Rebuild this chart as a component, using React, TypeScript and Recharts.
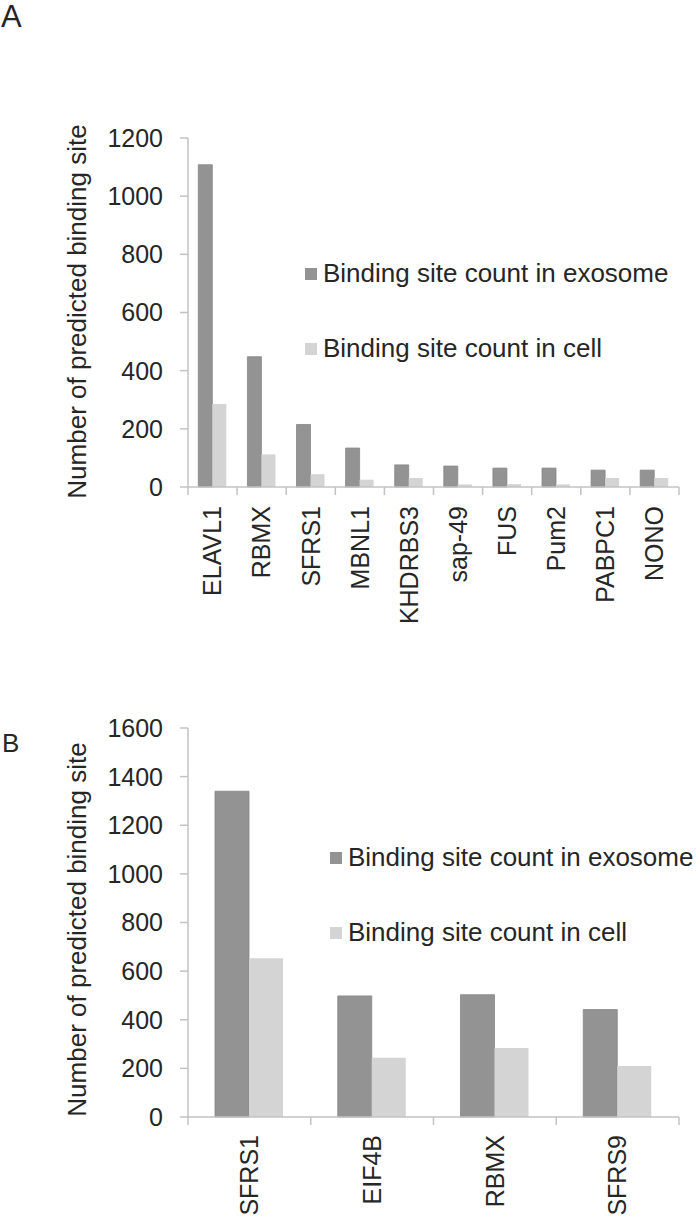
import React from "react";
import { BarChart, Bar, XAxis, YAxis, Legend, Label } from "recharts";

const proteinsA = ["ELAVL1", "RBMX", "SFRS1", "MBNL1", "KHDRBS3", "sap-49", "FUS", "Pum2", "PABPC1", "NONO"];
const exosomeA = [1108, 448, 215, 134, 76, 72, 65, 65, 58, 58];
const cellA = [285, 112, 44, 25, 31, 9, 10, 9, 31, 31];
const ticksA = [0, 200, 400, 600, 800, 1000, 1200];

const proteinsB = ["SFRS1", "EIF4B", "RBMX", "SFRS9"];
const exosomeB = [1340, 498, 503, 442];
const cellB = [653, 244, 284, 210];
const ticksB = [0, 200, 400, 600, 800, 1000, 1200, 1400, 1600];

const seriesNames = ["Binding site count in exosome", "Binding site count in cell"];
const yTitle = "Number of predicted binding site";

const FONT = "'Liberation Sans', Arial, Helvetica, sans-serif";
const TEXT = "#262626";
const AXIS = "#c3c3c3";
const DARK = "#939393";
const LIGHT = "#d4d4d4";

const W = 700;
const LEFT = 188;
const RIGHT = 21;
const PLOT_W = W - LEFT - RIGHT;

const rowsA = proteinsA.map((name, i) => ({ name, exosome: exosomeA[i], cell: cellA[i] }));
const rowsB = proteinsB.map((name, i) => ({ name, exosome: exosomeB[i], cell: cellB[i] }));

function makeTick(count: number, labelGap: number, fontSize: number) {
  const band = PLOT_W / count;
  return (props: any) => {
    const { x, y, payload, index } = props;
    const left = x - band / 2;
    return (
      <g>
        <line x1={left} y1={y} x2={left} y2={y + 8} stroke={AXIS} strokeWidth={1.5} />
        {index === count - 1 && (
          <line x1={x + band / 2} y1={y} x2={x + band / 2} y2={y + 8} stroke={AXIS} strokeWidth={1.5} />
        )}
        <text
          x={x}
          y={y + labelGap}
          transform={`rotate(-90, ${x}, ${y + labelGap})`}
          textAnchor="end"
          dy="0.35em"
          fill={TEXT}
          fontSize={fontSize}
          fontFamily={FONT}
        >
          {payload.value}
        </text>
      </g>
    );
  };
}

// legend keeps the series order (exosome first), not recharts' alphabetical one
function makeLegend(squareGap: number, fontSize: number) {
  return (props: any) => {
    const items = [...(props.payload || [])].sort(
      (a: any, b: any) => seriesNames.indexOf(a.value) - seriesNames.indexOf(b.value)
    );
    return (
      <div style={{ fontFamily: FONT, fontSize, color: TEXT }}>
        {items.map((entry: any) => (
          <div key={entry.value} style={{ display: "flex", alignItems: "center", height: 75, whiteSpace: "nowrap" }}>
            <span
              style={{
                display: "inline-block",
                width: 12,
                height: 12,
                background: entry.color,
                marginRight: squareGap,
              }}
            />
            <span>{entry.value}</span>
          </div>
        ))}
      </div>
    );
  };
}

function yTitleContent(dy: number) {
  return (props: any) => {
    const vb = props.viewBox;
    const cx = 77;
    const cy = vb.y + vb.height / 2 + dy;
    return (
      <text
        x={cx}
        y={cy}
        transform={`rotate(-90, ${cx}, ${cy})`}
        textAnchor="middle"
        dy="0.35em"
        fill={TEXT}
        fontSize={26}
        fontFamily={FONT}
      >
        {yTitle}
      </text>
    );
  };
}

const yTick = { fill: TEXT, fontSize: 25, fontFamily: FONT };

export default function App() {
  return (
    <div style={{ position: "absolute", left: 0, top: 0, width: W, height: 1221, background: "#fff" }}>
      <div style={{ position: "absolute", left: 1, top: 0, fontFamily: FONT, fontSize: 31, color: TEXT, lineHeight: "34px" }}>
        A
      </div>
      <div style={{ position: "absolute", left: 2, top: 728, fontFamily: FONT, fontSize: 26, color: TEXT, lineHeight: "30px" }}>
        B
      </div>

      <div style={{ position: "absolute", left: 0, top: 0 }}>
        <BarChart
          width={W}
          height={640}
          data={rowsA}
          margin={{ top: 138, right: RIGHT, bottom: 0, left: 0 }}
          barCategoryGap="21%"
          barGap={0}
        >
          <XAxis
            dataKey="name"
            height={153}
            interval={0}
            stroke={AXIS}
            strokeWidth={1.5}
            tickLine={false}
            tickSize={0}
            tickMargin={0}
            tick={makeTick(proteinsA.length, 19, 25)}
          />
          <YAxis
            width={LEFT}
            domain={[0, 1200]}
            ticks={ticksA}
            interval={0}
            stroke={AXIS}
            strokeWidth={1.5}
            tickSize={8}
            tickMargin={17}
            tick={yTick}
          >
            <Label content={yTitleContent(-1)} />
          </YAxis>
          <Legend
            layout="vertical"
            align="center"
            verticalAlign="middle"
            wrapperStyle={{ left: 305, top: 236, width: "auto" }}
            content={makeLegend(6, 26)}
          />
          <Bar dataKey="exosome" name={seriesNames[0]} fill={DARK} stroke="#868686" strokeWidth={0.8} isAnimationActive={false} />
          <Bar dataKey="cell" name={seriesNames[1]} fill={LIGHT} isAnimationActive={false} />
        </BarChart>
      </div>

      <div style={{ position: "absolute", left: 0, top: 640 }}>
        <BarChart
          width={W}
          height={581}
          data={rowsB}
          margin={{ top: 88, right: RIGHT, bottom: 0, left: 0 }}
          barCategoryGap="22%"
          barGap={0}
        >
          <XAxis
            dataKey="name"
            height={104}
            interval={0}
            stroke={AXIS}
            strokeWidth={1.5}
            tickLine={false}
            tickSize={0}
            tickMargin={0}
            tick={makeTick(proteinsB.length, 18, 25)}
          />
          <YAxis
            width={LEFT}
            domain={[0, 1600]}
            ticks={ticksB}
            interval={0}
            stroke={AXIS}
            strokeWidth={1.5}
            tickSize={8}
            tickMargin={17}
            tick={yTick}
          >
            <Label content={yTitleContent(7)} />
          </YAxis>
          <Legend
            layout="vertical"
            align="center"
            verticalAlign="middle"
            wrapperStyle={{ left: 330, top: 180, width: "auto" }}
            content={makeLegend(6, 26)}
          />
          <Bar dataKey="exosome" name={seriesNames[0]} fill={DARK} stroke="#868686" strokeWidth={0.8} isAnimationActive={false} />
          <Bar dataKey="cell" name={seriesNames[1]} fill={LIGHT} isAnimationActive={false} />
        </BarChart>
      </div>
    </div>
  );
}
